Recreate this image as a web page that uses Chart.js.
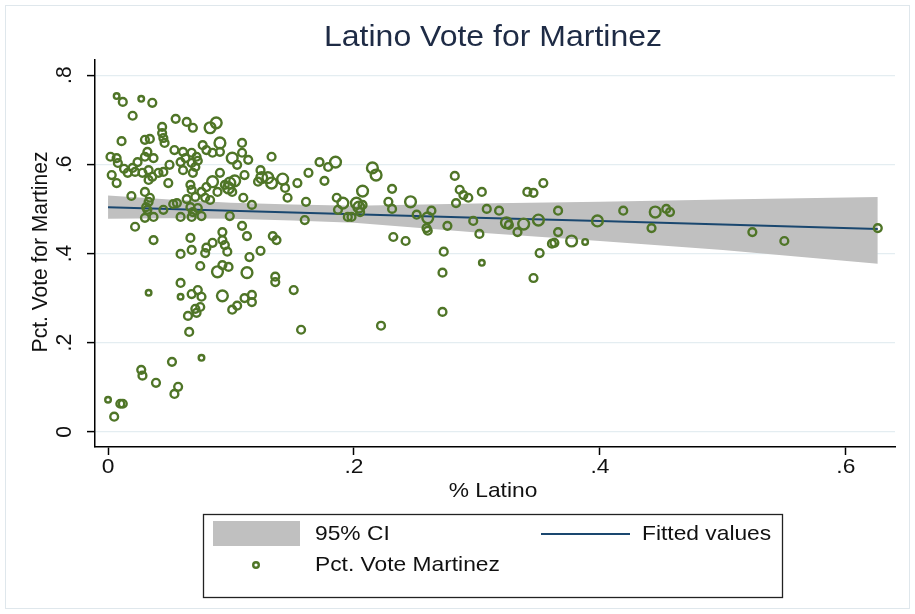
<!DOCTYPE html>
<html>
<head>
<meta charset="utf-8">
<script src="https://cdn.jsdelivr.net/npm/chart.js@4.4.1/dist/chart.umd.min.js"></script>
<style>
  html, body { margin: 0; padding: 0; background: #ffffff; }
  #wrap { width: 915px; height: 614px; position: relative; }
  canvas { display: block; }
</style>
</head>
<body>
<div id="wrap"><canvas id="chart" width="915" height="614"></canvas></div>
<script>
// Titles and axis labels
const chartTitle = 'Latino Vote for Martinez';
const xTitle = '% Latino';
const yTitle = 'Pct. Vote for Martinez';
const xTicks = [0, 0.2, 0.4, 0.6];
const yTicks = [0, 0.2, 0.4, 0.6, 0.8];
const legendLabels = ['95% CI', 'Fitted values', 'Pct. Vote Martinez'];

// Precincts: share Latino, Latino vote share for Martinez, analytic weight (1 small .. 3 large)
const latinoShare = [
  0.007,0.012,0.027,0.036,0.020,0.055,0.064,0.069,0.044,0.044,
  0.011,0.030,0.034,0.045,0.046,0.054,0.061,0.068,0.072,0.002,
  0.007,0.008,0.013,0.020,0.024,0.022,0.016,0.028,0.033,0.036,
  0.041,0.045,0.030,0.032,0.037,0.003,0.007,0.050,0.059,0.063,
  0.061,0.069,0.071,0.049,0.067,0.068,0.071,0.019,0.030,0.033,
  0.032,0.030,0.037,0.045,0.053,0.056,0.059,0.068,0.069,0.073,
  0.022,0.037,0.067,0.059,0.068,0.059,0.033,0.059,0.068,0.073,
  0.071,0.065,0.066,0.052,0.027,0.028,0.039,0.057,0.054,0.000,
  0.010,0.012,0.005,0.072,0.075,0.034,0.031,0.067,0.033,0.068,
  0.073,0.064,0.083,0.088,0.077,0.080,0.091,0.091,0.085,0.109,
  0.109,0.101,0.105,0.114,0.133,0.091,0.085,0.095,0.099,0.103,
  0.098,0.101,0.111,0.089,0.080,0.076,0.079,0.083,0.110,0.124,
  0.125,0.122,0.130,0.133,0.142,0.144,0.146,0.154,0.163,0.161,
  0.160,0.172,0.179,0.185,0.176,0.117,0.099,0.076,0.109,0.113,
  0.093,0.093,0.085,0.095,0.080,0.079,0.097,0.134,0.137,0.124,
  0.115,0.089,0.093,0.098,0.113,0.136,0.136,0.093,0.111,0.117,
  0.117,0.075,0.101,0.105,0.151,0.076,0.076,0.157,0.222,0.272,
  0.186,0.191,0.187,0.195,0.207,0.202,0.204,0.207,0.205,0.198,
  0.215,0.218,0.231,0.228,0.231,0.246,0.251,0.263,0.260,0.259,
  0.260,0.232,0.242,0.273,0.272,0.282,0.286,0.289,0.293,0.283,
  0.276,0.304,0.308,0.318,0.297,0.302,0.304,0.324,0.326,0.333,
  0.338,0.341,0.346,0.354,0.350,0.351,0.346,0.366,0.366,0.361,
  0.363,0.377,0.388,0.398,0.419,0.442,0.445,0.454,0.457,0.524,
  0.550,0.626
];
const voteShare = [
  0.753,0.740,0.747,0.738,0.709,0.702,0.695,0.682,0.684,0.670,
  0.652,0.655,0.657,0.659,0.648,0.632,0.628,0.626,0.617,0.617,
  0.614,0.603,0.590,0.592,0.605,0.583,0.581,0.581,0.587,0.572,
  0.581,0.583,0.617,0.628,0.614,0.576,0.558,0.599,0.605,0.614,
  0.587,0.581,0.594,0.558,0.554,0.543,0.527,0.529,0.538,0.516,
  0.498,0.480,0.482,0.498,0.511,0.513,0.482,0.482,0.493,0.502,
  0.460,0.430,0.435,0.399,0.408,0.334,0.312,0.303,0.309,0.318,
  0.276,0.260,0.224,0.157,0.139,0.126,0.110,0.101,0.085,0.072,
  0.063,0.063,0.034,0.267,0.372,0.525,0.504,0.504,0.565,0.603,
  0.608,0.522,0.682,0.693,0.643,0.632,0.648,0.628,0.626,0.648,
  0.626,0.614,0.599,0.610,0.617,0.581,0.561,0.554,0.558,0.563,
  0.547,0.538,0.576,0.538,0.549,0.538,0.525,0.520,0.525,0.587,
  0.570,0.561,0.570,0.558,0.567,0.547,0.525,0.558,0.581,0.516,
  0.475,0.605,0.594,0.605,0.563,0.509,0.484,0.484,0.462,0.439,
  0.448,0.430,0.424,0.419,0.413,0.401,0.404,0.439,0.430,0.406,
  0.392,0.359,0.374,0.370,0.357,0.348,0.336,0.305,0.300,0.307,
  0.291,0.280,0.274,0.283,0.318,0.166,0.303,0.229,0.238,0.269,
  0.525,0.513,0.498,0.482,0.540,0.513,0.504,0.509,0.493,0.482,
  0.592,0.576,0.545,0.516,0.500,0.516,0.487,0.496,0.480,0.457,
  0.451,0.437,0.428,0.404,0.357,0.574,0.543,0.531,0.525,0.513,
  0.462,0.538,0.500,0.496,0.473,0.444,0.379,0.469,0.464,0.448,
  0.466,0.538,0.536,0.558,0.475,0.401,0.345,0.496,0.448,0.422,
  0.424,0.428,0.426,0.473,0.496,0.457,0.493,0.500,0.493,0.448,
  0.428,0.457
];
const pointWeight = [
  1,2,1,2,2,2,2,2,2,2,
  2,2,2,2,2,2,2,2,2,2,
  2,2,2,2,2,2,2,2,2,2,
  2,2,2,2,2,2,2,2,2,2,
  2,2,2,2,2,2,2,2,2,2,
  2,2,2,2,2,2,2,2,2,2,
  2,2,2,2,2,2,1,1,2,2,
  2,2,2,2,2,2,2,2,2,1,
  2,2,2,2,2,2,2,2,2,2,
  2,2,3,3,2,2,3,2,2,2,
  2,3,2,2,2,2,3,2,3,3,
  3,2,2,2,2,2,2,2,2,2,
  3,2,3,3,3,2,2,2,2,2,
  2,2,2,3,2,2,2,2,2,2,
  2,2,2,2,2,2,2,2,2,2,
  2,3,2,2,3,2,2,3,2,2,
  2,2,2,2,2,1,2,2,2,2,
  2,3,2,2,3,3,3,2,2,2,
  3,3,2,2,2,3,2,2,3,2,
  2,2,2,2,2,2,2,2,2,2,
  2,2,2,2,2,2,1,3,2,2,
  3,2,2,2,3,2,2,2,2,2,
  2,3,1,3,2,2,3,2,2,2,
  2,2
];

// Linear fit with its 95% confidence band
const fitX    = [0,     0.05,  0.1,   0.15,  0.2,   0.3,   0.4,   0.5,   0.626];
const fitY    = [0.504, 0.500, 0.496, 0.492, 0.488, 0.480, 0.473, 0.465, 0.455];
const ciUpper = [0.530, 0.521, 0.514, 0.510, 0.507, 0.512, 0.516, 0.521, 0.527];
const ciLower = [0.478, 0.479, 0.478, 0.474, 0.469, 0.447, 0.428, 0.408, 0.377];

const GREEN = '#4f7527';
const NAVY = '#1a476f';
const BAND = '#c0c0c0';
const FONT = '"Liberation Sans", Arial, Helvetica, sans-serif';
const STRETCH = 1.085;   // horizontal stretch of the lettering
const radiusFor = w => (w === 1 ? 2.8 : w === 3 ? 5.4 : 3.9);

const toPoints = (xs, ys) => xs.map((x, i) => ({ x: x, y: ys[i] }));
const fmtTick = v => (v === 0 ? '0' : String(Math.round(v * 10) / 10).replace(/^0/, ''));

function drawLabel(ctx, text, x, y, size, align, color, vertical) {
  ctx.save();
  ctx.translate(x, y);
  if (vertical) {
    ctx.rotate(-Math.PI / 2);
    ctx.scale(1, STRETCH);
  } else {
    ctx.scale(STRETCH, 1);
  }
  ctx.font = size + 'px ' + FONT;
  ctx.fillStyle = color;
  ctx.textAlign = align;
  ctx.textBaseline = 'middle';
  ctx.fillText(text, 0, 0);
  ctx.restore();
}

const frame = {
  id: 'frame',
  beforeDraw(chart) {
    const ctx = chart.ctx;
    ctx.save();
    ctx.fillStyle = '#ffffff';
    ctx.fillRect(0, 0, chart.width, chart.height);
    ctx.strokeStyle = '#dfe7ec';
    ctx.lineWidth = 1;
    ctx.strokeRect(5.5, 5.5, chart.width - 11, chart.height - 11);
    ctx.restore();
  }
};

const annotations = {
  id: 'annotations',
  afterDraw(chart) {
    const ctx = chart.ctx;
    const xs = chart.scales.x, ys = chart.scales.y;
    const ink = '#111111';

    drawLabel(ctx, chartTitle, 493, 38, 29.5, 'center', '#1e2b45', false);

    xTicks.forEach(v => drawLabel(ctx, fmtTick(v), xs.getPixelForValue(v), 467, 21, 'center', ink, false));
    yTicks.forEach(v => drawLabel(ctx, fmtTick(v), 65, ys.getPixelForValue(v), 21, 'center', ink, true));

    drawLabel(ctx, xTitle, 493, 491, 21, 'center', ink, false);
    drawLabel(ctx, yTitle, 41, 252, 21, 'center', ink, true);

    // Legend
    ctx.save();
    ctx.strokeStyle = '#222222';
    ctx.lineWidth = 1.3;
    ctx.strokeRect(203.5, 514.5, 579, 83);
    ctx.fillStyle = BAND;
    ctx.fillRect(213, 521, 87, 25);
    ctx.strokeStyle = NAVY;
    ctx.lineWidth = 2;
    ctx.beginPath();
    ctx.moveTo(541, 534);
    ctx.lineTo(630, 534);
    ctx.stroke();
    ctx.strokeStyle = GREEN;
    ctx.lineWidth = 2.4;
    ctx.beginPath();
    ctx.arc(256, 565, 2.8, 0, Math.PI * 2);
    ctx.stroke();
    ctx.restore();
    drawLabel(ctx, legendLabels[0], 315, 534, 21, 'left', ink, false);
    drawLabel(ctx, legendLabels[1], 642, 534, 21, 'left', ink, false);
    drawLabel(ctx, legendLabels[2], 315, 565, 21, 'left', ink, false);
  }
};

new Chart(document.getElementById('chart'), {
  type: 'scatter',
  data: {
    datasets: [
      {
        type: 'line',
        label: legendLabels[0],
        data: toPoints(fitX, ciUpper),
        borderWidth: 0,
        borderColor: 'rgba(0,0,0,0)',
        backgroundColor: BAND,
        pointRadius: 0,
        fill: '+1',
        order: 3
      },
      {
        type: 'line',
        label: 'lower',
        data: toPoints(fitX, ciLower),
        borderWidth: 0,
        borderColor: 'rgba(0,0,0,0)',
        pointRadius: 0,
        fill: false,
        order: 3
      },
      {
        type: 'line',
        label: legendLabels[1],
        data: toPoints(fitX, fitY),
        borderColor: NAVY,
        borderWidth: 2,
        pointRadius: 0,
        fill: false,
        order: 2
      },
      {
        type: 'scatter',
        label: legendLabels[2],
        data: toPoints(latinoShare, voteShare),
        borderColor: GREEN,
        backgroundColor: 'rgba(0,0,0,0)',
        pointBorderWidth: 2.4,
        pointRadius: c => radiusFor(pointWeight[c.dataIndex]),
        order: 1
      }
    ]
  },
  options: {
    responsive: false,
    devicePixelRatio: 1,
    animation: false,
    events: [],
    layout: { padding: { left: 0, right: 20, top: 60, bottom: 107 } },
    plugins: {
      legend: { display: false },
      title: { display: false },
      tooltip: { enabled: false }
    },
    scales: {
      x: {
        type: 'linear',
        min: -0.0106,
        max: 0.64,
        afterBuildTicks: s => { s.ticks = xTicks.map(v => ({ value: v })); },
        afterFit: s => { s.height = 60; },
        ticks: { display: false },
        grid: { drawOnChartArea: false, drawTicks: true, tickLength: 8, tickColor: '#000000', tickWidth: 1.5 },
        border: { display: true, color: '#000000', width: 1.5 }
      },
      y: {
        type: 'linear',
        min: -0.034,
        max: 0.834,
        afterBuildTicks: s => { s.ticks = yTicks.map(v => ({ value: v })); },
        afterFit: s => { s.width = 95; },
        ticks: { display: false },
        grid: { color: '#e4edf1', lineWidth: 1.2, drawTicks: true, tickLength: 8, tickColor: '#000000', tickWidth: 1.5 },
        border: { display: true, color: '#000000', width: 1.5 }
      }
    }
  },
  plugins: [frame, annotations]
});
</script>
</body>
</html>
